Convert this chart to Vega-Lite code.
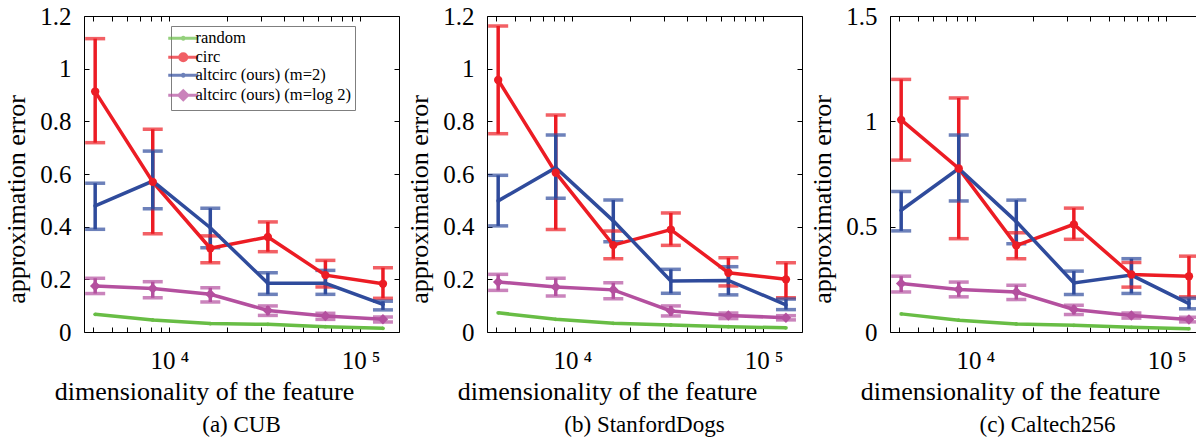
{
  "$schema": "https://vega.github.io/schema/vega-lite/v6.json",
  "padding": {"left": 2, "top": 3, "right": 5, "bottom": 5},
  "bounds": "flush",
  "spacing": 88,
  "data": {"values": [
    {"p":"a","s":"random","d":4096,"v":0.067},
    {"p":"a","s":"random","d":8192,"v":0.046},
    {"p":"a","s":"random","d":16384,"v":0.032},
    {"p":"a","s":"random","d":32768,"v":0.029},
    {"p":"a","s":"random","d":65536,"v":0.020},
    {"p":"a","s":"random","d":131072,"v":0.014},
    {"p":"a","s":"circ","d":4096,"v":0.913,"lo":0.719,"hi":1.114},
    {"p":"a","s":"circ","d":8192,"v":0.570,"lo":0.373,"hi":0.770},
    {"p":"a","s":"circ","d":16384,"v":0.318,"lo":0.263,"hi":0.365},
    {"p":"a","s":"circ","d":32768,"v":0.361,"lo":0.305,"hi":0.418},
    {"p":"a","s":"circ","d":65536,"v":0.216,"lo":0.171,"hi":0.272},
    {"p":"a","s":"circ","d":131072,"v":0.183,"lo":0.128,"hi":0.244},
    {"p":"a","s":"altcirc (ours) (m=2)","d":4096,"v":0.479,"lo":0.390,"hi":0.565},
    {"p":"a","s":"altcirc (ours) (m=2)","d":8192,"v":0.573,"lo":0.468,"hi":0.687},
    {"p":"a","s":"altcirc (ours) (m=2)","d":16384,"v":0.396,"lo":0.320,"hi":0.470},
    {"p":"a","s":"altcirc (ours) (m=2)","d":32768,"v":0.185,"lo":0.143,"hi":0.225},
    {"p":"a","s":"altcirc (ours) (m=2)","d":65536,"v":0.185,"lo":0.143,"hi":0.234},
    {"p":"a","s":"altcirc (ours) (m=2)","d":131072,"v":0.105,"lo":0.084,"hi":0.117},
    {"p":"a","s":"altcirc (ours) (m=log 2)","d":4096,"v":0.175,"lo":0.146,"hi":0.204},
    {"p":"a","s":"altcirc (ours) (m=log 2)","d":8192,"v":0.165,"lo":0.130,"hi":0.191},
    {"p":"a","s":"altcirc (ours) (m=log 2)","d":16384,"v":0.143,"lo":0.114,"hi":0.168},
    {"p":"a","s":"altcirc (ours) (m=log 2)","d":32768,"v":0.082,"lo":0.063,"hi":0.099},
    {"p":"a","s":"altcirc (ours) (m=log 2)","d":65536,"v":0.061,"lo":0.048,"hi":0.071},
    {"p":"a","s":"altcirc (ours) (m=log 2)","d":131072,"v":0.048,"lo":0.038,"hi":0.057},

    {"p":"b","s":"random","d":4096,"v":0.073},
    {"p":"b","s":"random","d":8192,"v":0.048},
    {"p":"b","s":"random","d":16384,"v":0.033},
    {"p":"b","s":"random","d":32768,"v":0.027},
    {"p":"b","s":"random","d":65536,"v":0.020},
    {"p":"b","s":"random","d":131072,"v":0.016},
    {"p":"b","s":"circ","d":4096,"v":0.957,"lo":0.753,"hi":1.162},
    {"p":"b","s":"circ","d":8192,"v":0.605,"lo":0.389,"hi":0.824},
    {"p":"b","s":"circ","d":16384,"v":0.330,"lo":0.278,"hi":0.384},
    {"p":"b","s":"circ","d":32768,"v":0.389,"lo":0.329,"hi":0.452},
    {"p":"b","s":"circ","d":65536,"v":0.225,"lo":0.175,"hi":0.282},
    {"p":"b","s":"circ","d":131072,"v":0.200,"lo":0.130,"hi":0.263},
    {"p":"b","s":"altcirc (ours) (m=2)","d":4096,"v":0.498,"lo":0.403,"hi":0.595},
    {"p":"b","s":"altcirc (ours) (m=2)","d":8192,"v":0.624,"lo":0.508,"hi":0.748},
    {"p":"b","s":"altcirc (ours) (m=2)","d":16384,"v":0.422,"lo":0.343,"hi":0.501},
    {"p":"b","s":"altcirc (ours) (m=2)","d":32768,"v":0.194,"lo":0.147,"hi":0.238},
    {"p":"b","s":"altcirc (ours) (m=2)","d":65536,"v":0.196,"lo":0.141,"hi":0.248},
    {"p":"b","s":"altcirc (ours) (m=2)","d":131072,"v":0.103,"lo":0.085,"hi":0.125},
    {"p":"b","s":"altcirc (ours) (m=log 2)","d":4096,"v":0.190,"lo":0.158,"hi":0.219},
    {"p":"b","s":"altcirc (ours) (m=log 2)","d":8192,"v":0.171,"lo":0.137,"hi":0.204},
    {"p":"b","s":"altcirc (ours) (m=log 2)","d":16384,"v":0.160,"lo":0.126,"hi":0.187},
    {"p":"b","s":"altcirc (ours) (m=log 2)","d":32768,"v":0.080,"lo":0.061,"hi":0.099},
    {"p":"b","s":"altcirc (ours) (m=log 2)","d":65536,"v":0.063,"lo":0.051,"hi":0.072},
    {"p":"b","s":"altcirc (ours) (m=log 2)","d":131072,"v":0.054,"lo":0.046,"hi":0.062},

    {"p":"c","s":"random","d":4096,"v":0.086},
    {"p":"c","s":"random","d":8192,"v":0.056},
    {"p":"c","s":"random","d":16384,"v":0.038},
    {"p":"c","s":"random","d":32768,"v":0.032},
    {"p":"c","s":"random","d":65536,"v":0.022},
    {"p":"c","s":"random","d":131072,"v":0.016},
    {"p":"c","s":"circ","d":4096,"v":1.007,"lo":0.816,"hi":1.199},
    {"p":"c","s":"circ","d":8192,"v":0.776,"lo":0.443,"hi":1.111},
    {"p":"c","s":"circ","d":16384,"v":0.411,"lo":0.348,"hi":0.471},
    {"p":"c","s":"circ","d":32768,"v":0.511,"lo":0.440,"hi":0.588},
    {"p":"c","s":"circ","d":65536,"v":0.273,"lo":0.213,"hi":0.330},
    {"p":"c","s":"circ","d":131072,"v":0.265,"lo":0.167,"hi":0.360},
    {"p":"c","s":"altcirc (ours) (m=2)","d":4096,"v":0.578,"lo":0.480,"hi":0.667},
    {"p":"c","s":"altcirc (ours) (m=2)","d":8192,"v":0.776,"lo":0.622,"hi":0.935},
    {"p":"c","s":"altcirc (ours) (m=2)","d":16384,"v":0.524,"lo":0.419,"hi":0.626},
    {"p":"c","s":"altcirc (ours) (m=2)","d":32768,"v":0.233,"lo":0.178,"hi":0.289},
    {"p":"c","s":"altcirc (ours) (m=2)","d":65536,"v":0.270,"lo":0.183,"hi":0.348},
    {"p":"c","s":"altcirc (ours) (m=2)","d":131072,"v":0.135,"lo":0.110,"hi":0.160},
    {"p":"c","s":"altcirc (ours) (m=log 2)","d":4096,"v":0.230,"lo":0.190,"hi":0.265},
    {"p":"c","s":"altcirc (ours) (m=log 2)","d":8192,"v":0.202,"lo":0.167,"hi":0.237},
    {"p":"c","s":"altcirc (ours) (m=log 2)","d":16384,"v":0.190,"lo":0.154,"hi":0.222},
    {"p":"c","s":"altcirc (ours) (m=log 2)","d":32768,"v":0.107,"lo":0.083,"hi":0.127},
    {"p":"c","s":"altcirc (ours) (m=log 2)","d":65536,"v":0.078,"lo":0.066,"hi":0.090},
    {"p":"c","s":"altcirc (ours) (m=log 2)","d":131072,"v":0.059,"lo":0.048,"hi":0.070}
  ]},
  "hconcat": [
    {
      "width": 315, "height": 316,
      "title": {"text": "(a) CUB", "font": "Liberation Serif"},
      "transform": [{"filter": "datum.p == 'a'"}],
      "encoding": {
        "x": {"field": "d", "type": "quantitative", "scale": {"type": "log", "domain": [3580, 159000], "nice": false}, "axis": null},
        "y": {"field": "v", "type": "quantitative", "scale": {"domain": [0, 1.2], "nice": false, "zero": false}, "axis": null},
        "color": {"field": "s", "type": "nominal", "scale": {"domain": ["random", "circ", "altcirc (ours) (m=2)", "altcirc (ours) (m=log 2)"], "range": ["#68bd45", "#ec1c24", "#2f4b9c", "#b4509f"]}, "legend": null}
      },
      "layer": [
        {
          "transform": [{"filter": "datum.p == 'none'"}],
          "mark": {"type": "point", "filled": false},
          "encoding": {
            "x": {"field": "d", "type": "quantitative", "scale": {"type": "log", "domain": [3580, 159000], "nice": false},
              "axis": {"orient": "bottom", "values": [4000,5000,6000,7000,8000,9000,10000,20000,30000,40000,50000,60000,70000,80000,90000,100000], "labelExpr": "datum.value == 10000 ? '10\u2009\u2074' : datum.value == 100000 ? '10\u2009\u2075' : ''", "labelBaseline": "alphabetic", "labelPadding": 41, "title": "dimensionality of the feature", "titleX": 120, "titleY": 67, "titleBaseline": "alphabetic"}},
            "y": {"field": "v", "type": "quantitative", "scale": {"domain": [0, 1.2], "nice": false, "zero": false},
              "axis": {"orient": "left", "values": [0, 0.2, 0.4, 0.6, 0.8, 1, 1.2], "format": "~g", "labelPadding": 18, "title": "approximation error", "titleX": -55, "titleY": 183, "titleBaseline": "bottom"}},
            "color": {"field": "s", "type": "nominal", "scale": {"domain": ["random", "circ", "altcirc (ours) (m=2)", "altcirc (ours) (m=log 2)"], "range": ["#68bd45", "#ec1c24", "#2f4b9c", "#b4509f"]}, "legend": {"orient": "none", "legendX": 87, "legendY": 10, "title": null, "labelExpr": "datum.label + '\u2003\u2003'"}},
            "shape": {"field": "s", "type": "nominal", "scale": {"domain": ["random", "circ", "altcirc (ours) (m=2)", "altcirc (ours) (m=log 2)"], "range": ["M-3,0H3M0.2,0A0.2,0.2,0,1,1,-0.2,0A0.2,0.2,0,1,1,0.2,0Z", "M-3,0H3M0.7,0A0.7,0.7,0,1,1,-0.7,0A0.7,0.7,0,1,1,0.7,0ZM0.3,0A0.3,0.3,0,1,1,-0.3,0A0.3,0.3,0,1,1,0.3,0Z", "M-3,0H3M0.2,0A0.2,0.2,0,1,1,-0.2,0A0.2,0.2,0,1,1,0.2,0Z", "M-3,0H3M0,-0.9L0.9,0L0,0.9L-0.9,0ZM0,-0.4L0.4,0L0,0.4L-0.4,0Z"]}, "legend": {"orient": "none", "legendX": 87, "legendY": 10, "title": null, "labelExpr": "datum.label + '\u2003\u2003'"}}
          }
        },
        {
          "transform": [{"filter": "datum.p == 'none'"}],
          "mark": {"type": "point"},
          "encoding": {
            "x": {"field": "d", "type": "quantitative", "scale": {"type": "log", "domain": [3580, 159000], "nice": false},
              "axis": {"orient": "top", "values": [4000,5000,6000,7000,8000,9000,10000,20000,30000,40000,50000,60000,70000,80000,90000,100000], "labels": false, "title": null}},
            "y": {"field": "v", "type": "quantitative", "scale": {"domain": [0, 1.2], "nice": false, "zero": false},
              "axis": {"orient": "right", "values": [0, 0.2, 0.4, 0.6, 0.8, 1, 1.2], "labels": false, "title": null}}
          }
        },
        {
          "transform": [{"filter": "isValid(datum.lo)"}],
          "mark": {"type": "rule", "strokeWidth": 3.5},
          "encoding": {"y": {"field": "lo", "type": "quantitative", "axis": null}, "y2": {"field": "hi"}}
        },
        {
          "transform": [{"filter": "isValid(datum.lo)"}],
          "mark": {"type": "tick", "orient": "horizontal", "size": 20, "thickness": 3.5},
          "encoding": {"y": {"field": "lo", "type": "quantitative", "axis": null}}
        },
        {
          "transform": [{"filter": "isValid(datum.hi)"}],
          "mark": {"type": "tick", "orient": "horizontal", "size": 20, "thickness": 3.5},
          "encoding": {"y": {"field": "hi", "type": "quantitative", "axis": null}}
        },
        {
          "mark": {"type": "line", "strokeWidth": 3.5},
          "encoding": {"order": {"field": "d"}}
        },
        {
          "transform": [{"filter": "datum.s == 'random' || datum.s == 'altcirc (ours) (m=2)'"}],
          "mark": {"type": "point", "shape": "circle", "filled": true, "size": 14, "opacity": 1}
        },
        {
          "transform": [{"filter": "datum.s == 'circ'"}],
          "mark": {"type": "point", "shape": "circle", "filled": true, "size": 70, "opacity": 1}
        },
        {
          "transform": [{"filter": "datum.s == 'altcirc (ours) (m=log 2)'"}],
          "mark": {"type": "point", "shape": "diamond", "filled": true, "size": 110, "opacity": 1}
        }
      ]
    },
    {
      "width": 315, "height": 316,
      "title": {"text": "(b) StanfordDogs", "font": "Liberation Serif"},
      "transform": [{"filter": "datum.p == 'b'"}],
      "encoding": {
        "x": {"field": "d", "type": "quantitative", "scale": {"type": "log", "domain": [3580, 159000], "nice": false}, "axis": null},
        "y": {"field": "v", "type": "quantitative", "scale": {"domain": [0, 1.2], "nice": false, "zero": false}, "axis": null},
        "color": {"field": "s", "type": "nominal", "scale": {"domain": ["random", "circ", "altcirc (ours) (m=2)", "altcirc (ours) (m=log 2)"], "range": ["#68bd45", "#ec1c24", "#2f4b9c", "#b4509f"]}, "legend": null}
      },
      "layer": [
        {
          "transform": [{"filter": "datum.p == 'none'"}],
          "mark": {"type": "point", "filled": false},
          "encoding": {
            "x": {"field": "d", "type": "quantitative", "scale": {"type": "log", "domain": [3580, 159000], "nice": false},
              "axis": {"orient": "bottom", "values": [4000,5000,6000,7000,8000,9000,10000,20000,30000,40000,50000,60000,70000,80000,90000,100000], "labelExpr": "datum.value == 10000 ? '10\u2009\u2074' : datum.value == 100000 ? '10\u2009\u2075' : ''", "labelBaseline": "alphabetic", "labelPadding": 41, "title": "dimensionality of the feature", "titleX": 120, "titleY": 67, "titleBaseline": "alphabetic"}},
            "y": {"field": "v", "type": "quantitative", "scale": {"domain": [0, 1.2], "nice": false, "zero": false},
              "axis": {"orient": "left", "values": [0, 0.2, 0.4, 0.6, 0.8, 1, 1.2], "format": "~g", "labelPadding": 18, "title": "approximation error", "titleX": -55, "titleY": 183, "titleBaseline": "bottom"}},
            "color": {"field": "s", "type": "nominal", "scale": {"domain": ["random", "circ", "altcirc (ours) (m=2)", "altcirc (ours) (m=log 2)"], "range": ["#68bd45", "#ec1c24", "#2f4b9c", "#b4509f"]}, "legend": {"orient": "none", "legendX": 87, "legendY": 10, "title": null, "labelExpr": "datum.label + '\u2003\u2003'"}},
            "shape": {"field": "s", "type": "nominal", "scale": {"domain": ["random", "circ", "altcirc (ours) (m=2)", "altcirc (ours) (m=log 2)"], "range": ["M-3,0H3M0.2,0A0.2,0.2,0,1,1,-0.2,0A0.2,0.2,0,1,1,0.2,0Z", "M-3,0H3M0.7,0A0.7,0.7,0,1,1,-0.7,0A0.7,0.7,0,1,1,0.7,0ZM0.3,0A0.3,0.3,0,1,1,-0.3,0A0.3,0.3,0,1,1,0.3,0Z", "M-3,0H3M0.2,0A0.2,0.2,0,1,1,-0.2,0A0.2,0.2,0,1,1,0.2,0Z", "M-3,0H3M0,-0.9L0.9,0L0,0.9L-0.9,0ZM0,-0.4L0.4,0L0,0.4L-0.4,0Z"]}, "legend": {"orient": "none", "legendX": 87, "legendY": 10, "title": null, "labelExpr": "datum.label + '\u2003\u2003'"}}
          }
        },
        {
          "transform": [{"filter": "datum.p == 'none'"}],
          "mark": {"type": "point"},
          "encoding": {
            "x": {"field": "d", "type": "quantitative", "scale": {"type": "log", "domain": [3580, 159000], "nice": false},
              "axis": {"orient": "top", "values": [4000,5000,6000,7000,8000,9000,10000,20000,30000,40000,50000,60000,70000,80000,90000,100000], "labels": false, "title": null}},
            "y": {"field": "v", "type": "quantitative", "scale": {"domain": [0, 1.2], "nice": false, "zero": false},
              "axis": {"orient": "right", "values": [0, 0.2, 0.4, 0.6, 0.8, 1, 1.2], "labels": false, "title": null}}
          }
        },
        {
          "transform": [{"filter": "isValid(datum.lo)"}],
          "mark": {"type": "rule", "strokeWidth": 3.5},
          "encoding": {"y": {"field": "lo", "type": "quantitative", "axis": null}, "y2": {"field": "hi"}}
        },
        {
          "transform": [{"filter": "isValid(datum.lo)"}],
          "mark": {"type": "tick", "orient": "horizontal", "size": 20, "thickness": 3.5},
          "encoding": {"y": {"field": "lo", "type": "quantitative", "axis": null}}
        },
        {
          "transform": [{"filter": "isValid(datum.hi)"}],
          "mark": {"type": "tick", "orient": "horizontal", "size": 20, "thickness": 3.5},
          "encoding": {"y": {"field": "hi", "type": "quantitative", "axis": null}}
        },
        {
          "mark": {"type": "line", "strokeWidth": 3.5},
          "encoding": {"order": {"field": "d"}}
        },
        {
          "transform": [{"filter": "datum.s == 'random' || datum.s == 'altcirc (ours) (m=2)'"}],
          "mark": {"type": "point", "shape": "circle", "filled": true, "size": 14, "opacity": 1}
        },
        {
          "transform": [{"filter": "datum.s == 'circ'"}],
          "mark": {"type": "point", "shape": "circle", "filled": true, "size": 70, "opacity": 1}
        },
        {
          "transform": [{"filter": "datum.s == 'altcirc (ours) (m=log 2)'"}],
          "mark": {"type": "point", "shape": "diamond", "filled": true, "size": 110, "opacity": 1}
        }
      ]
    },
    {
      "width": 315, "height": 316,
      "title": {"text": "(c) Caltech256", "font": "Liberation Serif"},
      "transform": [{"filter": "datum.p == 'c'"}],
      "encoding": {
        "x": {"field": "d", "type": "quantitative", "scale": {"type": "log", "domain": [3580, 159000], "nice": false}, "axis": null},
        "y": {"field": "v", "type": "quantitative", "scale": {"domain": [0, 1.5], "nice": false, "zero": false}, "axis": null},
        "color": {"field": "s", "type": "nominal", "scale": {"domain": ["random", "circ", "altcirc (ours) (m=2)", "altcirc (ours) (m=log 2)"], "range": ["#68bd45", "#ec1c24", "#2f4b9c", "#b4509f"]}, "legend": null}
      },
      "layer": [
        {
          "transform": [{"filter": "datum.p == 'none'"}],
          "mark": {"type": "point", "filled": false},
          "encoding": {
            "x": {"field": "d", "type": "quantitative", "scale": {"type": "log", "domain": [3580, 159000], "nice": false},
              "axis": {"orient": "bottom", "values": [4000,5000,6000,7000,8000,9000,10000,20000,30000,40000,50000,60000,70000,80000,90000,100000], "labelExpr": "datum.value == 10000 ? '10\u2009\u2074' : datum.value == 100000 ? '10\u2009\u2075' : ''", "labelBaseline": "alphabetic", "labelPadding": 41, "title": "dimensionality of the feature", "titleX": 120, "titleY": 67, "titleBaseline": "alphabetic"}},
            "y": {"field": "v", "type": "quantitative", "scale": {"domain": [0, 1.5], "nice": false, "zero": false},
              "axis": {"orient": "left", "values": [0, 0.5, 1, 1.5], "format": "~g", "labelPadding": 18, "title": "approximation error", "titleX": -55, "titleY": 183, "titleBaseline": "bottom"}},
            "color": {"field": "s", "type": "nominal", "scale": {"domain": ["random", "circ", "altcirc (ours) (m=2)", "altcirc (ours) (m=log 2)"], "range": ["#68bd45", "#ec1c24", "#2f4b9c", "#b4509f"]}, "legend": {"orient": "none", "legendX": 87, "legendY": 10, "title": null, "labelExpr": "datum.label + '\u2003\u2003'"}},
            "shape": {"field": "s", "type": "nominal", "scale": {"domain": ["random", "circ", "altcirc (ours) (m=2)", "altcirc (ours) (m=log 2)"], "range": ["M-3,0H3M0.2,0A0.2,0.2,0,1,1,-0.2,0A0.2,0.2,0,1,1,0.2,0Z", "M-3,0H3M0.7,0A0.7,0.7,0,1,1,-0.7,0A0.7,0.7,0,1,1,0.7,0ZM0.3,0A0.3,0.3,0,1,1,-0.3,0A0.3,0.3,0,1,1,0.3,0Z", "M-3,0H3M0.2,0A0.2,0.2,0,1,1,-0.2,0A0.2,0.2,0,1,1,0.2,0Z", "M-3,0H3M0,-0.9L0.9,0L0,0.9L-0.9,0ZM0,-0.4L0.4,0L0,0.4L-0.4,0Z"]}, "legend": {"orient": "none", "legendX": 87, "legendY": 10, "title": null, "labelExpr": "datum.label + '\u2003\u2003'"}}
          }
        },
        {
          "transform": [{"filter": "datum.p == 'none'"}],
          "mark": {"type": "point"},
          "encoding": {
            "x": {"field": "d", "type": "quantitative", "scale": {"type": "log", "domain": [3580, 159000], "nice": false},
              "axis": {"orient": "top", "values": [4000,5000,6000,7000,8000,9000,10000,20000,30000,40000,50000,60000,70000,80000,90000,100000], "labels": false, "title": null}},
            "y": {"field": "v", "type": "quantitative", "scale": {"domain": [0, 1.5], "nice": false, "zero": false},
              "axis": {"orient": "right", "values": [0, 0.5, 1, 1.5], "labels": false, "title": null}}
          }
        },
        {
          "transform": [{"filter": "isValid(datum.lo)"}],
          "mark": {"type": "rule", "strokeWidth": 3.5},
          "encoding": {"y": {"field": "lo", "type": "quantitative", "axis": null}, "y2": {"field": "hi"}}
        },
        {
          "transform": [{"filter": "isValid(datum.lo)"}],
          "mark": {"type": "tick", "orient": "horizontal", "size": 20, "thickness": 3.5},
          "encoding": {"y": {"field": "lo", "type": "quantitative", "axis": null}}
        },
        {
          "transform": [{"filter": "isValid(datum.hi)"}],
          "mark": {"type": "tick", "orient": "horizontal", "size": 20, "thickness": 3.5},
          "encoding": {"y": {"field": "hi", "type": "quantitative", "axis": null}}
        },
        {
          "mark": {"type": "line", "strokeWidth": 3.5},
          "encoding": {"order": {"field": "d"}}
        },
        {
          "transform": [{"filter": "datum.s == 'random' || datum.s == 'altcirc (ours) (m=2)'"}],
          "mark": {"type": "point", "shape": "circle", "filled": true, "size": 14, "opacity": 1}
        },
        {
          "transform": [{"filter": "datum.s == 'circ'"}],
          "mark": {"type": "point", "shape": "circle", "filled": true, "size": 70, "opacity": 1}
        },
        {
          "transform": [{"filter": "datum.s == 'altcirc (ours) (m=log 2)'"}],
          "mark": {"type": "point", "shape": "diamond", "filled": true, "size": 110, "opacity": 1}
        }
      ]
    }
  ],
  "config": {
    "font": "Liberation Serif",
    "view": {"stroke": "black", "strokeWidth": 1},
    "axis": {"grid": false, "domain": false, "tickSize": -5, "tickColor": "black", "tickWidth": 1,
      "labelFont": "Liberation Serif", "labelFontSize": 25, "labelColor": "black", "labelOverlap": false, "labelFlush": false,
      "titleFont": "Liberation Serif", "titleFontSize": 26, "titleFontWeight": "normal", "titleColor": "black"},
    "legend": {"labelFont": "Liberation Serif", "labelFontSize": 16.5, "labelColor": "black", "labelLimit": 400,
      "symbolSize": 100, "symbolStrokeWidth": 3, "labelOffset": 4, "rowPadding": 0, "padding": 4,
      "strokeColor": "#7f7f7f", "fillColor": "white"},
    "title": {"font": "Liberation Serif", "fontSize": 23, "fontWeight": "normal", "color": "black", "orient": "bottom", "anchor": "middle", "offset": 10}
  }
}
